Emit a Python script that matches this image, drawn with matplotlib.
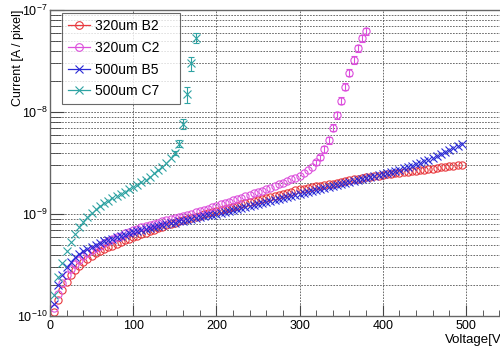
import numpy as np
import matplotlib
matplotlib.use('Agg')
import matplotlib.pyplot as plt
from matplotlib.lines import Line2D
from matplotlib.ticker import LogLocator, MultipleLocator

plt.rcParams['font.family'] = ['Liberation Sans', 'DejaVu Sans']
plt.rcParams['mathtext.default'] = 'regular'

# IV scan, 5 V steps
volt_b2 = list(range(5, 500, 5))
cur_b2 = [1.1e-10, 1.45e-10, 1.8e-10, 2.15e-10, 2.55e-10, 2.85e-10, 3.1e-10, 3.4e-10, 3.65e-10, 3.9e-10,
          4.1e-10, 4.3e-10, 4.5e-10, 4.7e-10, 4.9e-10, 5.1e-10, 5.3e-10, 5.5e-10, 5.7e-10, 5.9e-10,
          6.1e-10, 6.3e-10, 6.55e-10, 6.8e-10, 7.0e-10, 7.25e-10, 7.5e-10, 7.75e-10, 8.0e-10, 8.2e-10,
          8.45e-10, 8.7e-10, 8.9e-10, 9.1e-10, 9.4e-10, 9.65e-10, 9.9e-10, 1.02e-9, 1.045e-9, 1.07e-9,
          1.10e-9, 1.13e-9, 1.15e-9, 1.18e-9, 1.21e-9, 1.24e-9, 1.27e-9, 1.30e-9, 1.34e-9, 1.37e-9,
          1.40e-9, 1.43e-9, 1.47e-9, 1.50e-9, 1.54e-9, 1.58e-9, 1.62e-9, 1.66e-9, 1.70e-9, 1.74e-9,
          1.77e-9, 1.80e-9, 1.83e-9, 1.86e-9, 1.89e-9, 1.93e-9, 1.96e-9, 1.99e-9, 2.03e-9, 2.06e-9,
          2.10e-9, 2.14e-9, 2.18e-9, 2.22e-9, 2.26e-9, 2.29e-9, 2.32e-9, 2.35e-9, 2.38e-9, 2.41e-9,
          2.44e-9, 2.47e-9, 2.50e-9, 2.53e-9, 2.56e-9, 2.59e-9, 2.62e-9, 2.65e-9, 2.68e-9, 2.72e-9,
          2.75e-9, 2.79e-9, 2.82e-9, 2.86e-9, 2.89e-9, 2.93e-9, 2.96e-9, 3.00e-9, 3.03e-9]

volt_c2 = list(range(5, 385, 5))
cur_c2 = [1.2e-10, 1.65e-10, 2.1e-10, 2.5e-10, 2.9e-10, 3.25e-10, 3.55e-10, 3.85e-10, 4.15e-10, 4.4e-10,
          4.65e-10, 4.9e-10, 5.15e-10, 5.4e-10, 5.65e-10, 5.9e-10, 6.15e-10, 6.45e-10, 6.7e-10, 7.0e-10,
          7.2e-10, 7.4e-10, 7.6e-10, 7.8e-10, 8.0e-10, 8.2e-10, 8.45e-10, 8.65e-10, 8.9e-10, 9.1e-10,
          9.35e-10, 9.6e-10, 9.85e-10, 1.01e-9, 1.04e-9, 1.07e-9, 1.10e-9, 1.13e-9, 1.16e-9, 1.19e-9,
          1.24e-9, 1.28e-9, 1.32e-9, 1.36e-9, 1.40e-9, 1.45e-9, 1.49e-9, 1.54e-9, 1.59e-9, 1.64e-9,
          1.69e-9, 1.75e-9, 1.81e-9, 1.88e-9, 1.95e-9, 2.02e-9, 2.10e-9, 2.18e-9, 2.27e-9, 2.38e-9,
          2.52e-9, 2.70e-9, 2.92e-9, 3.2e-9, 3.6e-9, 4.3e-9, 5.3e-9, 7.0e-9, 9.3e-9, 1.29e-8,
          1.77e-8, 2.43e-8, 3.24e-8, 4.2e-8, 5.3e-8, 6.2e-8]

volt_b5 = list(range(5, 500, 5))
cur_b5 = [1.3e-10, 2.0e-10, 2.5e-10, 3.0e-10, 3.4e-10, 3.75e-10, 4.05e-10, 4.3e-10, 4.55e-10, 4.8e-10,
          5.0e-10, 5.2e-10, 5.4e-10, 5.6e-10, 5.75e-10, 5.9e-10, 6.1e-10, 6.25e-10, 6.45e-10, 6.6e-10,
          6.75e-10, 6.9e-10, 7.05e-10, 7.25e-10, 7.4e-10, 7.55e-10, 7.75e-10, 7.9e-10, 8.1e-10, 8.25e-10,
          8.45e-10, 8.6e-10, 8.8e-10, 9.0e-10, 9.15e-10, 9.35e-10, 9.5e-10, 9.7e-10, 9.85e-10, 1.0e-9,
          1.02e-9, 1.05e-9, 1.07e-9, 1.10e-9, 1.12e-9, 1.15e-9, 1.17e-9, 1.20e-9, 1.23e-9, 1.26e-9,
          1.29e-9, 1.32e-9, 1.35e-9, 1.38e-9, 1.41e-9, 1.44e-9, 1.47e-9, 1.51e-9, 1.54e-9, 1.57e-9,
          1.61e-9, 1.64e-9, 1.68e-9, 1.71e-9, 1.75e-9, 1.79e-9, 1.83e-9, 1.87e-9, 1.91e-9, 1.95e-9,
          2.0e-9, 2.04e-9, 2.09e-9, 2.13e-9, 2.18e-9, 2.23e-9, 2.28e-9, 2.34e-9, 2.39e-9, 2.45e-9,
          2.51e-9, 2.57e-9, 2.63e-9, 2.71e-9, 2.80e-9, 2.89e-9, 2.98e-9, 3.08e-9, 3.18e-9, 3.29e-9,
          3.4e-9, 3.55e-9, 3.71e-9, 3.87e-9, 4.04e-9, 4.22e-9, 4.4e-9, 4.6e-9, 4.8e-9]

volt_c7 = list(range(5, 180, 5))
cur_c7 = [1.6e-10, 2.4e-10, 3.3e-10, 4.3e-10, 5.3e-10, 6.4e-10, 7.4e-10, 8.4e-10, 9.4e-10, 1.03e-9,
          1.11e-9, 1.19e-9, 1.27e-9, 1.34e-9, 1.42e-9, 1.50e-9, 1.58e-9, 1.66e-9, 1.74e-9, 1.83e-9,
          1.93e-9, 2.04e-9, 2.17e-9, 2.32e-9, 2.5e-9, 2.7e-9, 2.92e-9, 3.15e-9, 3.55e-9, 3.95e-9,
          4.9e-9, 7.7e-9, 1.5e-8, 3.0e-8, 5.3e-8]

# error bars visible only near breakdown (relative)
err_c2_volt = [320, 325, 330, 335, 340, 345, 350, 355, 360, 365, 370, 375, 380]
err_c2_rel = [0.05, 0.06, 0.07, 0.08, 0.08, 0.08, 0.08, 0.08, 0.08, 0.08, 0.08, 0.08, 0.08]
err_c7_volt = [150, 155, 160, 165, 170, 175]
err_c7_rel = [0.05, 0.08, 0.12, 0.18, 0.15, 0.11]

labels = ['320um B2', '320um C2', '500um B5', '500um C7']
colors = ['#e8383d', '#dc4fdc', '#2a2ad6', '#2fa3a3']
markers = ['o', 'o', 'x', 'x']


def add_errors(ax, volt, cur, err_volt, err_rel, color):
    lookup = dict(zip(volt, cur))
    y = np.array([lookup[v] for v in err_volt])
    e = y * np.array(err_rel)
    ax.errorbar(err_volt, y, yerr=e, fmt='none', ecolor=color,
                elinewidth=0.8, capsize=2, capthick=0.8)


fig = plt.figure(figsize=(5, 3.47), dpi=100)
ax = fig.add_axes([0.1, 0.0893, 0.91, 0.882])

series = [(volt_b2, cur_b2), (volt_c2, cur_c2), (volt_b5, cur_b5), (volt_c7, cur_c7)]
for (v, c), col, m in zip(series, colors, markers):
    ax.plot(v, c, linestyle='none', marker=m, markersize=5.2, markerfacecolor='none',
            markeredgecolor=col, markeredgewidth=0.8)

add_errors(ax, volt_c2, cur_c2, err_c2_volt, err_c2_rel, colors[1])
add_errors(ax, volt_c7, cur_c7, err_c7_volt, err_c7_rel, colors[3])

ax.set_yscale('log')
ax.set_ylim(1e-10, 1e-7)
ax.set_xlim(0, 547)

ax.xaxis.set_major_locator(MultipleLocator(100))
ax.xaxis.set_minor_locator(MultipleLocator(20))
ax.yaxis.set_major_locator(LogLocator(base=10))
ax.yaxis.set_minor_locator(LogLocator(base=10, subs=np.arange(2, 10)))
ax.yaxis.set_minor_formatter(plt.NullFormatter())

ax.grid(True, which='major', axis='x', color='#555555', linestyle=(0, (2, 1.5)), linewidth=0.6)
ax.grid(True, which='both', axis='y', color='#555555', linestyle=(0, (2, 1.5)), linewidth=0.6)

ax.tick_params(axis='both', which='both', direction='in', colors='#444444', labelcolor='black',
               labelsize=9)
ax.tick_params(axis='x', which='major', length=8, pad=3)
ax.tick_params(axis='x', which='minor', length=4)
ax.tick_params(axis='y', which='major', length=10, pad=2)
ax.tick_params(axis='y', which='minor', length=8)
for s in ax.spines.values():
    s.set_color('#666666')
    s.set_linewidth(1.0)

ax.set_xlabel('Voltage[V]', fontsize=9.5, loc='right', labelpad=1)
ax.set_ylabel('Current [A / pixel]', fontsize=9, loc='top')
ax.yaxis.set_label_coords(-0.058, 1.0)

handles = [Line2D([], [], color=col, marker=m, markersize=5.5, markerfacecolor='none',
                  markeredgewidth=0.8, linewidth=0.9)
           for col, m in zip(colors, markers)]
leg = ax.legend(handles, labels, loc='upper left', mode='expand',
                bbox_to_anchor=(0.124, 0.703, 0.236, 0.2595),
                bbox_transform=fig.transFigure, fontsize=10, frameon=True, fancybox=False,
                borderpad=0.45, labelspacing=0.55, handlelength=1.6, handletextpad=0.35,
                borderaxespad=0)
leg.get_frame().set_edgecolor('#444444')
leg.get_frame().set_linewidth(0.8)

plt.savefig('out.png', dpi=100)
plt.close()
